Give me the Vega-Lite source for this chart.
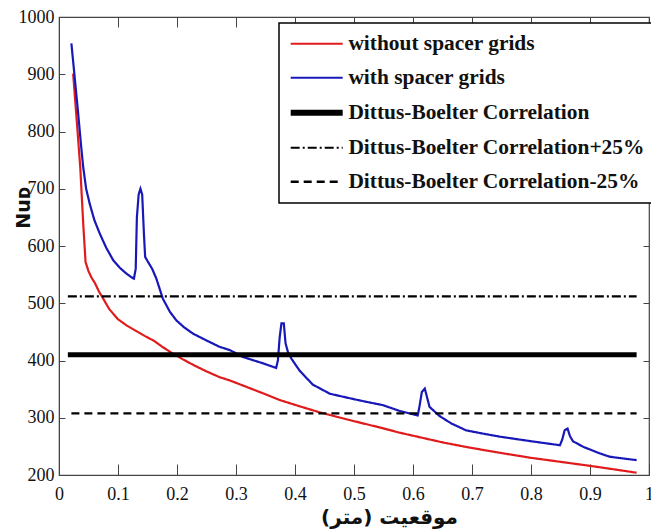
{
  "$schema": "https://vega.github.io/schema/vega-lite/v6.json",
  "width": 590,
  "height": 458,
  "autosize": {"type": "none"},
  "padding": {"left": 59, "top": 17, "right": 2, "bottom": 56},
  "background": "white",
  "config": {
    "view": {"stroke": "#444", "strokeWidth": 1.2},
    "axis": {"domainColor": "#444", "tickColor": "#444", "grid": false, "labelFont": "Liberation Serif", "labelFontSize": 18, "labelColor": "#111", "labelFlush": false, "labelOverlap": false},
    "legend": {"strokeColor": "black", "strokeWidth": 1.5, "fillColor": "white", "padding": 10, "labelFont": "Liberation Serif", "labelFontSize": 21.4, "labelFontWeight": "bold", "labelColor": "#111", "labelOffset": 21, "labelLimit": 400, "symbolType": "M-5.2,0H5.2", "symbolSize": 100, "symbolOffset": 17, "rowPadding": 11}
  },
  "data": {"values": [
    {"series": "without spacer grids", "x": 0.024, "y": 901},
    {"series": "without spacer grids", "x": 0.030, "y": 820},
    {"series": "without spacer grids", "x": 0.036, "y": 738},
    {"series": "without spacer grids", "x": 0.041, "y": 640},
    {"series": "without spacer grids", "x": 0.045, "y": 572},
    {"series": "without spacer grids", "x": 0.050, "y": 556},
    {"series": "without spacer grids", "x": 0.055, "y": 545},
    {"series": "without spacer grids", "x": 0.061, "y": 535},
    {"series": "without spacer grids", "x": 0.068, "y": 520},
    {"series": "without spacer grids", "x": 0.075, "y": 508},
    {"series": "without spacer grids", "x": 0.085, "y": 490},
    {"series": "without spacer grids", "x": 0.100, "y": 472},
    {"series": "without spacer grids", "x": 0.115, "y": 461},
    {"series": "without spacer grids", "x": 0.130, "y": 452},
    {"series": "without spacer grids", "x": 0.145, "y": 443},
    {"series": "without spacer grids", "x": 0.160, "y": 435},
    {"series": "without spacer grids", "x": 0.175, "y": 424},
    {"series": "without spacer grids", "x": 0.190, "y": 414},
    {"series": "without spacer grids", "x": 0.210, "y": 402},
    {"series": "without spacer grids", "x": 0.230, "y": 391},
    {"series": "without spacer grids", "x": 0.250, "y": 381},
    {"series": "without spacer grids", "x": 0.272, "y": 371},
    {"series": "without spacer grids", "x": 0.290, "y": 365},
    {"series": "without spacer grids", "x": 0.320, "y": 353},
    {"series": "without spacer grids", "x": 0.350, "y": 341},
    {"series": "without spacer grids", "x": 0.374, "y": 331},
    {"series": "without spacer grids", "x": 0.408, "y": 320},
    {"series": "without spacer grids", "x": 0.440, "y": 310},
    {"series": "without spacer grids", "x": 0.470, "y": 302},
    {"series": "without spacer grids", "x": 0.500, "y": 294},
    {"series": "without spacer grids", "x": 0.540, "y": 284},
    {"series": "without spacer grids", "x": 0.577, "y": 274},
    {"series": "without spacer grids", "x": 0.620, "y": 264},
    {"series": "without spacer grids", "x": 0.650, "y": 257},
    {"series": "without spacer grids", "x": 0.690, "y": 249},
    {"series": "without spacer grids", "x": 0.740, "y": 240},
    {"series": "without spacer grids", "x": 0.800, "y": 230},
    {"series": "without spacer grids", "x": 0.850, "y": 223},
    {"series": "without spacer grids", "x": 0.900, "y": 216},
    {"series": "without spacer grids", "x": 0.940, "y": 210},
    {"series": "without spacer grids", "x": 0.979, "y": 204},
    {"series": "with spacer grids", "x": 0.021, "y": 954},
    {"series": "with spacer grids", "x": 0.027, "y": 890},
    {"series": "with spacer grids", "x": 0.032, "y": 837},
    {"series": "with spacer grids", "x": 0.037, "y": 780},
    {"series": "with spacer grids", "x": 0.041, "y": 738},
    {"series": "with spacer grids", "x": 0.046, "y": 700},
    {"series": "with spacer grids", "x": 0.052, "y": 674},
    {"series": "with spacer grids", "x": 0.060, "y": 645},
    {"series": "with spacer grids", "x": 0.069, "y": 622},
    {"series": "with spacer grids", "x": 0.080, "y": 597},
    {"series": "with spacer grids", "x": 0.092, "y": 575},
    {"series": "with spacer grids", "x": 0.103, "y": 562},
    {"series": "with spacer grids", "x": 0.114, "y": 552},
    {"series": "with spacer grids", "x": 0.122, "y": 546},
    {"series": "with spacer grids", "x": 0.127, "y": 543},
    {"series": "with spacer grids", "x": 0.130, "y": 560},
    {"series": "with spacer grids", "x": 0.132, "y": 650},
    {"series": "with spacer grids", "x": 0.135, "y": 690},
    {"series": "with spacer grids", "x": 0.138, "y": 700},
    {"series": "with spacer grids", "x": 0.141, "y": 690},
    {"series": "with spacer grids", "x": 0.144, "y": 620},
    {"series": "with spacer grids", "x": 0.146, "y": 581},
    {"series": "with spacer grids", "x": 0.151, "y": 572},
    {"series": "with spacer grids", "x": 0.158, "y": 560},
    {"series": "with spacer grids", "x": 0.165, "y": 543},
    {"series": "with spacer grids", "x": 0.176, "y": 508},
    {"series": "with spacer grids", "x": 0.188, "y": 485},
    {"series": "with spacer grids", "x": 0.199, "y": 470},
    {"series": "with spacer grids", "x": 0.212, "y": 458},
    {"series": "with spacer grids", "x": 0.227, "y": 447},
    {"series": "with spacer grids", "x": 0.250, "y": 435},
    {"series": "with spacer grids", "x": 0.272, "y": 424},
    {"series": "with spacer grids", "x": 0.290, "y": 418},
    {"series": "with spacer grids", "x": 0.312, "y": 406},
    {"series": "with spacer grids", "x": 0.346, "y": 395},
    {"series": "with spacer grids", "x": 0.368, "y": 387},
    {"series": "with spacer grids", "x": 0.371, "y": 400},
    {"series": "with spacer grids", "x": 0.374, "y": 440},
    {"series": "with spacer grids", "x": 0.377, "y": 465},
    {"series": "with spacer grids", "x": 0.381, "y": 465},
    {"series": "with spacer grids", "x": 0.384, "y": 430},
    {"series": "with spacer grids", "x": 0.388, "y": 415},
    {"series": "with spacer grids", "x": 0.394, "y": 403},
    {"series": "with spacer grids", "x": 0.408, "y": 382},
    {"series": "with spacer grids", "x": 0.430, "y": 358},
    {"series": "with spacer grids", "x": 0.459, "y": 342},
    {"series": "with spacer grids", "x": 0.493, "y": 334},
    {"series": "with spacer grids", "x": 0.520, "y": 328},
    {"series": "with spacer grids", "x": 0.549, "y": 322},
    {"series": "with spacer grids", "x": 0.577, "y": 312},
    {"series": "with spacer grids", "x": 0.608, "y": 304},
    {"series": "with spacer grids", "x": 0.611, "y": 320},
    {"series": "with spacer grids", "x": 0.615, "y": 345},
    {"series": "with spacer grids", "x": 0.620, "y": 351},
    {"series": "with spacer grids", "x": 0.624, "y": 335},
    {"series": "with spacer grids", "x": 0.628, "y": 319},
    {"series": "with spacer grids", "x": 0.645, "y": 303},
    {"series": "with spacer grids", "x": 0.665, "y": 290},
    {"series": "with spacer grids", "x": 0.690, "y": 278},
    {"series": "with spacer grids", "x": 0.720, "y": 272},
    {"series": "with spacer grids", "x": 0.747, "y": 267},
    {"series": "with spacer grids", "x": 0.800, "y": 259},
    {"series": "with spacer grids", "x": 0.849, "y": 252},
    {"series": "with spacer grids", "x": 0.853, "y": 262},
    {"series": "with spacer grids", "x": 0.857, "y": 278},
    {"series": "with spacer grids", "x": 0.862, "y": 281},
    {"series": "with spacer grids", "x": 0.866, "y": 268},
    {"series": "with spacer grids", "x": 0.871, "y": 259},
    {"series": "with spacer grids", "x": 0.889, "y": 249},
    {"series": "with spacer grids", "x": 0.916, "y": 238},
    {"series": "with spacer grids", "x": 0.933, "y": 232},
    {"series": "with spacer grids", "x": 0.955, "y": 229},
    {"series": "with spacer grids", "x": 0.979, "y": 226},
    {"series": "Dittus-Boelter Correlation", "x": 0.015, "y": 410},
    {"series": "Dittus-Boelter Correlation", "x": 0.979, "y": 410},
    {"series": "Dittus-Boelter Correlation+25%", "x": 0.015, "y": 512},
    {"series": "Dittus-Boelter Correlation+25%", "x": 0.979, "y": 512},
    {"series": "Dittus-Boelter Correlation-25%", "x": 0.021, "y": 307.5},
    {"series": "Dittus-Boelter Correlation-25%", "x": 0.979, "y": 307.5}
  ]},
  "layer": [
    {
      "mark": {"type": "line", "strokeOpacity": 0},
      "encoding": {
        "x": {"field": "x", "type": "quantitative", "scale": {"domain": [0, 1], "nice": false},
              "axis": {"orient": "top", "labels": false, "title": null, "domain": false, "tickSize": -10, "values": [0, 0.1, 0.2, 0.3, 0.4, 0.5, 0.6, 0.7, 0.8, 0.9, 1]}},
        "y": {"field": "y", "type": "quantitative", "scale": {"domain": [200, 1000], "nice": false, "zero": false},
              "axis": {"orient": "right", "labels": false, "title": null, "domain": false, "tickSize": -6, "values": [200, 300, 400, 500, 600, 700, 800, 900, 1000]}},
        "detail": {"field": "series"}
      }
    },
    {
      "transform": [{"filter": "datum.series !== 'Dittus-Boelter Correlation'"}],
      "mark": {"type": "line", "strokeWidth": 2.2},
      "encoding": {
        "x": {"field": "x", "type": "quantitative", "scale": {"domain": [0, 1], "nice": false},
              "axis": {"orient": "bottom", "title": "موقعیت (متر)", "tickSize": -11, "labelPadding": 21, "format": "~g",
                       "labelFont": "Liberation Serif", "labelFontSize": 18, "labelColor": "#111",
                       "values": [0, 0.1, 0.2, 0.3, 0.4, 0.5, 0.6, 0.7, 0.8, 0.9, 1],
                       "titleFont": "DejaVu Sans", "titleFontSize": 20, "titleFontWeight": "bold", "titleColor": "#111",
                       "titleX": 330, "titleY": 32, "titleBaseline": "top", "titleAlign": "center"}},
        "y": {"field": "y", "type": "quantitative", "scale": {"domain": [200, 1000], "nice": false, "zero": false},
              "axis": {"orient": "left", "title": "Nuᴅ", "tickSize": -6, "labelPadding": 11, "format": "d",
                       "labelFont": "Liberation Serif", "labelFontSize": 18, "labelColor": "#111",
                       "values": [200, 300, 400, 500, 600, 700, 800, 900, 1000],
                       "titleFont": "DejaVu Sans", "titleFontSize": 19, "titleFontWeight": "bold", "titleColor": "#111",
                       "titleX": -26, "titleY": 190, "titleAngle": -90, "titleBaseline": "bottom", "titleAlign": "center"}},
        "color": {"field": "series", "type": "ordinal",
                  "scale": {"domain": ["without spacer grids", "with spacer grids", "Dittus-Boelter Correlation", "Dittus-Boelter Correlation+25%", "Dittus-Boelter Correlation-25%"],
                            "range": ["#e01b1b", "#1818b8", "#000000", "#000000", "#000000"]},
                  "legend": {"title": null, "orient": "none", "legendX": 220, "legendY": 6,
                             "encode": {"symbols": {"update": {"strokeWidth": {"signal": "datum.value === 'Dittus-Boelter Correlation' ? 6 : (datum.value === 'Dittus-Boelter Correlation-25%' ? 2.5 : 2)"}}}}}},
        "strokeDash": {"field": "series", "type": "ordinal",
                  "scale": {"domain": ["without spacer grids", "with spacer grids", "Dittus-Boelter Correlation", "Dittus-Boelter Correlation+25%", "Dittus-Boelter Correlation-25%"],
                            "range": [[1, 0], [1, 0], [1, 0], [9, 3, 2, 3], [8, 5]]},
                  "legend": {"title": null, "orient": "none", "legendX": 220, "legendY": 6,
                             "encode": {"symbols": {"update": {"strokeWidth": {"signal": "datum.value === 'Dittus-Boelter Correlation' ? 6 : (datum.value === 'Dittus-Boelter Correlation-25%' ? 2.5 : 2)"}}}}}}
      }
    },
    {
      "transform": [{"filter": "datum.series === 'Dittus-Boelter Correlation'"}],
      "mark": {"type": "line", "strokeWidth": 5},
      "encoding": {
        "x": {"field": "x", "type": "quantitative", "scale": {"domain": [0, 1], "nice": false}, "axis": null},
        "y": {"field": "y", "type": "quantitative", "scale": {"domain": [200, 1000], "nice": false, "zero": false}, "axis": null},
        "color": {"field": "series", "type": "ordinal",
                  "scale": {"domain": ["without spacer grids", "with spacer grids", "Dittus-Boelter Correlation", "Dittus-Boelter Correlation+25%", "Dittus-Boelter Correlation-25%"],
                            "range": ["#e01b1b", "#1818b8", "#000000", "#000000", "#000000"]},
                  "legend": {"title": null, "orient": "none", "legendX": 220, "legendY": 6,
                             "encode": {"symbols": {"update": {"strokeWidth": {"signal": "datum.value === 'Dittus-Boelter Correlation' ? 6 : (datum.value === 'Dittus-Boelter Correlation-25%' ? 2.5 : 2)"}}}}}},
        "strokeDash": {"field": "series", "type": "ordinal",
                  "scale": {"domain": ["without spacer grids", "with spacer grids", "Dittus-Boelter Correlation", "Dittus-Boelter Correlation+25%", "Dittus-Boelter Correlation-25%"],
                            "range": [[1, 0], [1, 0], [1, 0], [9, 3, 2, 3], [8, 5]]},
                  "legend": {"title": null, "orient": "none", "legendX": 220, "legendY": 6,
                             "encode": {"symbols": {"update": {"strokeWidth": {"signal": "datum.value === 'Dittus-Boelter Correlation' ? 6 : (datum.value === 'Dittus-Boelter Correlation-25%' ? 2.5 : 2)"}}}}}}
      }
    }
  ],
  "resolve": {"axis": {"x": "independent", "y": "independent"}}
}
